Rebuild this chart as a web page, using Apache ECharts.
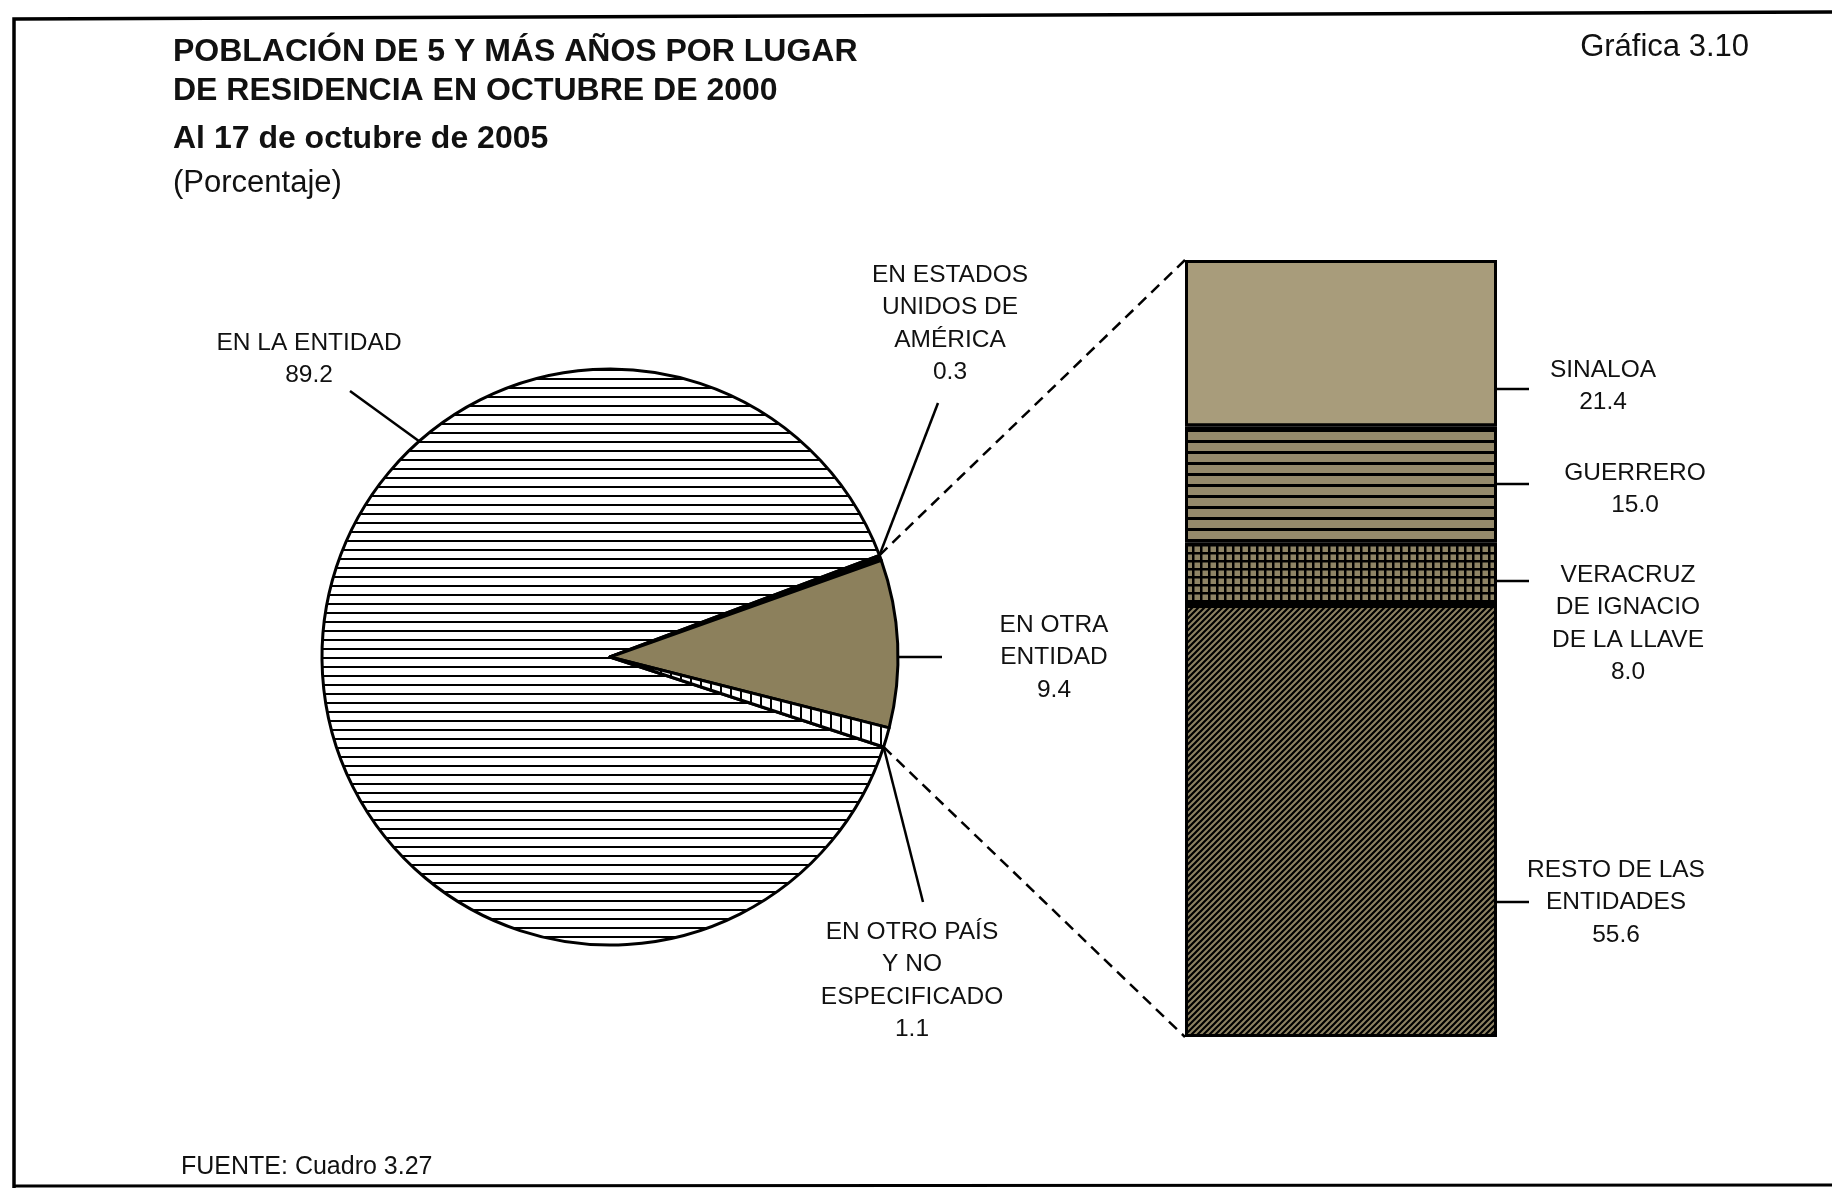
<!DOCTYPE html>
<html><head><meta charset="utf-8">
<script src="https://cdn.jsdelivr.net/npm/echarts@6/dist/echarts.min.js"></script>
<style>html,body{margin:0;padding:0;background:#fff}#c{width:1832px;height:1188px}</style>
</head><body><div id="c"></div>
<script>
// ---------- DATA ----------
const titleLines = ['POBLACIÓN DE 5 Y MÁS AÑOS POR LUGAR', 'DE RESIDENCIA EN OCTUBRE DE 2000'];
const subtitleLine = 'Al 17 de octubre de 2005';
const unitLine = '(Porcentaje)';
const chartNumber = 'Gráfica 3.10';
const sourceLine = 'FUENTE: Cuadro 3.27';

const pieCategories = ['EN LA ENTIDAD', 'EN ESTADOS\nUNIDOS DE\nAMÉRICA', 'EN OTRA\nENTIDAD', 'EN OTRO PAÍS\nY NO\nESPECIFICADO'];
const pieValues = [89.2, 0.3, 9.4, 1.1];

const barCategories = ['SINALOA', 'GUERRERO', 'VERACRUZ\nDE IGNACIO\nDE LA LLAVE', 'RESTO DE LAS\nENTIDADES'];
const barValues = [21.4, 15.0, 8.0, 55.6];

// ---------- STYLE / LAYOUT ----------
const FONT = '"Liberation Sans", Arial, Helvetica, sans-serif';
const PIE_CENTER = [610, 657], PIE_R = 288, PIE_START = 341.8;
const GRID = {left: 1185, top: 260, width: 312, height: 777};

function makePattern(w, h, bg, draw) {
  const c = document.createElement('canvas'); c.width = w; c.height = h;
  const g = c.getContext('2d'); g.fillStyle = bg; g.fillRect(0, 0, w, h);
  g.fillStyle = '#000'; g.strokeStyle = '#000';
  draw(g, w, h);
  return {image: c, repeat: 'repeat'};
}
const patHoriz = makePattern(8, 9, '#ffffff', g => g.fillRect(0, 0, 8, 2));
const patVert = makePattern(10, 8, '#ffffff', g => g.fillRect(0, 0, 2, 8));
const patGuerrero = makePattern(8, 11, '#958a6b', g => g.fillRect(0, 0, 8, 3));
const patGrid = makePattern(8, 8, '#8e8465', g => { g.fillRect(0, 0, 8, 2.5); g.fillRect(0, 0, 2.5, 8); });
const patDiag = makePattern(6, 6, '#8d8262', (g, w, h) => {
  g.lineWidth = 2.2; g.beginPath();
  g.moveTo(-1, h + 1); g.lineTo(w + 1, -1);
  g.moveTo(-1, 1); g.lineTo(1, -1);
  g.moveTo(w - 1, h + 1); g.lineTo(w + 1, h - 1);
  g.stroke();
});
const pieFills = [patHoriz, '#000000', '#8c805c', patVert];
const barFills = ['#a89c7b', patGuerrero, patGrid, patDiag];

// label layout (text first-line centre, leader end)
const pieLabelLayout = [
  {x: 309, y: 343, anchor: 131.5, end: [350, 391]},
  {x: 950, y: 275, anchor: 'startOfSlice', end: [938, 403]},
  {x: 1054, y: 625, anchor: 0, end: [942, 657]},
  {x: 912, y: 932, anchor: 'endOfSlice', end: [923, 902]}
];
const barLabelLayout = [
  {x: 1603, y: 370, lineY: 389},
  {x: 1635, y: 473, lineY: 484},
  {x: 1628, y: 575, lineY: 581},
  {x: 1616, y: 870, lineY: 902}
];

const chart = echarts.init(document.getElementById('c'), null, {renderer: 'canvas'});
chart.setOption({
  animation: false,
  backgroundColor: '#ffffff',
  grid: GRID,
  xAxis: {type: 'category', data: [''], show: false},
  yAxis: {type: 'value', min: 0, max: 100, inverse: true, show: false},
  series: [
    {
      type: 'pie', center: PIE_CENTER, radius: PIE_R, startAngle: PIE_START, clockwise: true,
      silent: true, label: {show: false}, labelLine: {show: false},
      itemStyle: {borderColor: '#000', borderWidth: 3},
      data: pieCategories.map((n, i) => ({name: n, value: pieValues[i], itemStyle: {color: pieFills[i]}}))
    }
  ].concat(barCategories.map((n, i) => ({
    type: 'bar', name: n, stack: 'total', data: [barValues[i]], barWidth: '100%', silent: true,
    itemStyle: {color: barFills[i], borderColor: '#000', borderWidth: 3}
  })))
});

// ---------- annotations ----------
const total = pieValues.reduce((a, b) => a + b, 0);
function angleAtCum(cum) { return PIE_START - cum / total * 360; }
function cumBefore(i) { let s = 0; for (let k = 0; k < i; k++) s += pieValues[k]; return s; }
function ptAt(angDeg, r) {
  const a = angDeg * Math.PI / 180;
  return [PIE_CENTER[0] + r * Math.cos(a), PIE_CENTER[1] - r * Math.sin(a)];
}
function txt(text, x, y, size, opts) {
  opts = opts || {};
  return {
    type: 'text', x: x, y: y, scaleX: opts.sx || 1, z: 100, silent: true,
    style: {
      text: text, x: 0, y: 0, fill: '#111',
      font: (opts.bold ? 'bold ' : '') + size + 'px ' + FONT,
      textAlign: opts.align || 'left', textVerticalAlign: opts.valign || 'middle',
      lineHeight: opts.lh || size * 1.2
    }
  };
}
function line(p1, p2, w, dash) {
  return {type: 'line', z: 90, silent: true, shape: {x1: p1[0], y1: p1[1], x2: p2[0], y2: p2[1]},
    style: {stroke: '#000', lineWidth: w, lineDash: dash || null, lineCap: 'butt'}};
}

const g = [];
// frame
g.push({type: 'polyline', z: 95, silent: true, shape: {points: [[14, 1190], [14, 19], [1840, 12]]},
  style: {stroke: '#000', lineWidth: 3.5, fill: null}});
g.push(line([14, 1186], [1840, 1185], 3));
// titles
g.push(txt(titleLines[0], 173, 52, 32, {bold: true}));
g.push(txt(titleLines[1], 173, 91, 32, {bold: true}));
g.push(txt(subtitleLine, 173, 139, 32, {bold: true}));
g.push(txt(unitLine, 173, 183, 31));
g.push(txt(chartNumber, 1749, 47, 31, {align: 'right'}));
g.push(txt(sourceLine, 181, 1167, 25));

// pie labels
const LH = 32.5;
pieCategories.forEach((n, i) => {
  const L = pieLabelLayout[i];
  let ang = L.anchor;
  if (ang === 'startOfSlice') ang = angleAtCum(cumBefore(i));
  if (ang === 'endOfSlice') ang = angleAtCum(cumBefore(i) + pieValues[i]);
  g.push(line(ptAt(ang, PIE_R), L.end, 2.5));
  g.push(txt(n + '\n' + pieValues[i].toFixed(1), L.x, L.y - LH / 2, 24.5, {align: 'center', valign: 'top', lh: LH}));
});

// bar
const pTop = chart.convertToPixel({xAxisIndex: 0, yAxisIndex: 0}, [0, 0]);
const pBot = chart.convertToPixel({xAxisIndex: 0, yAxisIndex: 0}, [0, 100]);
const barLeft = GRID.left, barRight = GRID.left + GRID.width;
barCategories.forEach((n, i) => {
  const L = barLabelLayout[i];
  g.push(line([barRight, L.lineY], [barRight + 32, L.lineY], 2.5));
  g.push(txt(n + '\n' + barValues[i].toFixed(1), L.x, L.y - 16, 24.5, {align: 'center', valign: 'top', lh: 32.3}));
});

// dashed connectors from pie to bar
const upperAng = angleAtCum(cumBefore(1));
const lowerAng = angleAtCum(total);
g.push(line(ptAt(upperAng, PIE_R), [barLeft, pTop[1]], 2.5, [11, 7]));
g.push(line(ptAt(lowerAng, PIE_R), [barLeft, pBot[1]], 2.5, [11, 7]));

chart.setOption({graphic: {elements: g}});
</script>
</body></html>
